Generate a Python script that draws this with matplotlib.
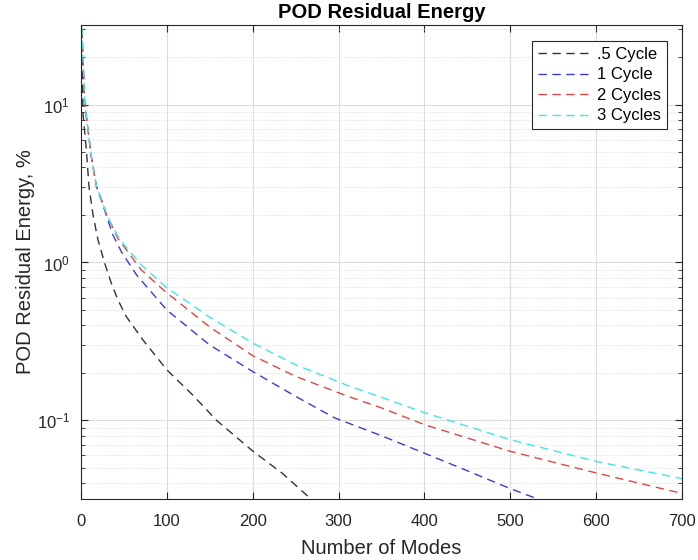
import matplotlib
matplotlib.use("Agg")
import matplotlib.pyplot as plt
from matplotlib.ticker import LogLocator, FixedLocator, NullFormatter

plt.rcParams['font.family'] = ['Liberation Sans', 'DejaVu Sans']
plt.rcParams['mathtext.fontset'] = 'custom'
plt.rcParams['mathtext.rm'] = 'Liberation Sans'
plt.rcParams['mathtext.it'] = 'Liberation Sans:italic'
plt.rcParams['mathtext.bf'] = 'Liberation Sans:bold'
plt.rcParams['axes.unicode_minus'] = False

title = "POD Residual Energy"
xlabel = "Number of Modes"
ylabel = "POD Residual Energy, %"
labels = [".5 Cycle", "1 Cycle", "2 Cycles", "3 Cycles"]
colors = ["#333333", "#3a3ad8", "#e04545", "#3fe6e6"]

x_half = [1, 2.3, 6.2, 9.3, 14, 19.8, 27.6, 35.3, 43, 52.7, 72, 100, 130, 158, 200, 235, 270]
y_half = [30, 8.8, 5.2, 3.03, 2.0, 1.39, 0.99, 0.74, 0.58, 0.455, 0.324, 0.209, 0.145, 0.1, 0.064, 0.046, 0.031]

x_one = [1, 4.3, 12, 18, 24, 30, 37, 47, 65, 100, 150, 200, 250, 295, 350, 400, 450, 500, 532]
y_one = [30, 10.2, 4.69, 3.03, 2.45, 1.95, 1.5, 1.17, 0.83, 0.50, 0.30, 0.204, 0.142, 0.104, 0.080, 0.062, 0.048, 0.037, 0.0318]

x_two = [1, 4.3, 12, 18, 24, 30, 43, 51, 70, 98, 150, 200, 250, 311, 350, 400, 500, 600, 700]
y_two = [30, 10.2, 4.69, 3.03, 2.49, 2.0, 1.42, 1.24, 0.90, 0.655, 0.39, 0.257, 0.19, 0.142, 0.12, 0.094, 0.0637, 0.0465, 0.0345]

x_three = [1, 4.3, 12, 18, 24, 30, 43, 51, 70, 98, 150, 200, 250, 311, 350, 400, 500, 600, 700]
y_three = [31, 10.2, 4.69, 3.03, 2.49, 2.0, 1.46, 1.28, 0.97, 0.705, 0.45, 0.309, 0.225, 0.166, 0.14, 0.112, 0.0755, 0.055, 0.0428]

xticks = [0, 100, 200, 300, 400, 500, 600, 700]

fig = plt.figure(figsize=(6.98, 5.6), dpi=100)
ax = fig.add_axes([81/698, 61/560, 601/698, 474/560])

series = [(x_half, y_half), (x_one, y_one), (x_two, y_two), (x_three, y_three)]
for (xs, ys), lab, col in zip(series, labels, colors):
    ax.plot(xs, ys, linestyle=(0, (6, 4)), color=col, lw=1.0, label=lab)

ax.set_yscale('log')
ax.set_xlim(0, 700)
ax.set_ylim(0.0318, 31.9)
ax.xaxis.set_major_locator(FixedLocator(xticks))
ax.yaxis.set_major_locator(LogLocator(base=10, numticks=10))
ax.yaxis.set_minor_locator(LogLocator(base=10, subs=range(2, 10), numticks=20))
ax.yaxis.set_minor_formatter(NullFormatter())

ax.grid(True, which='major', color='#dcdcdc', lw=0.8, ls='-')
ax.grid(True, which='minor', axis='y', color='#d0d0d0', lw=0.6, ls=(0, (1, 2)))
ax.set_axisbelow(True)

for s in ax.spines.values():
    s.set_color('#262626')
    s.set_linewidth(0.8)
ax.tick_params(which='both', direction='in', top=True, right=True, colors='#262626', labelsize=12)
ax.tick_params(which='major', length=5, width=0.8)
ax.tick_params(axis='x', which='major', pad=11)
ax.tick_params(axis='y', which='major', pad=8)
ax.tick_params(which='minor', length=3, width=0.6)

ax.set_title(title, fontsize=14.5, fontweight='bold', pad=5)
ax.set_xlabel(xlabel, fontsize=14.5, color='#262626', labelpad=7)
ax.set_ylabel(ylabel, fontsize=14.5, color='#262626', labelpad=1)

leg = ax.legend(loc='upper right', bbox_to_anchor=(0.975, 0.966), fontsize=12, frameon=True,
                fancybox=False, edgecolor='#262626', framealpha=1, handlelength=3.0,
                borderpad=0.35, labelspacing=0.33, handletextpad=0.55, borderaxespad=0)
leg.get_frame().set_linewidth(0.8)

fig.savefig("out.png", dpi=100)
